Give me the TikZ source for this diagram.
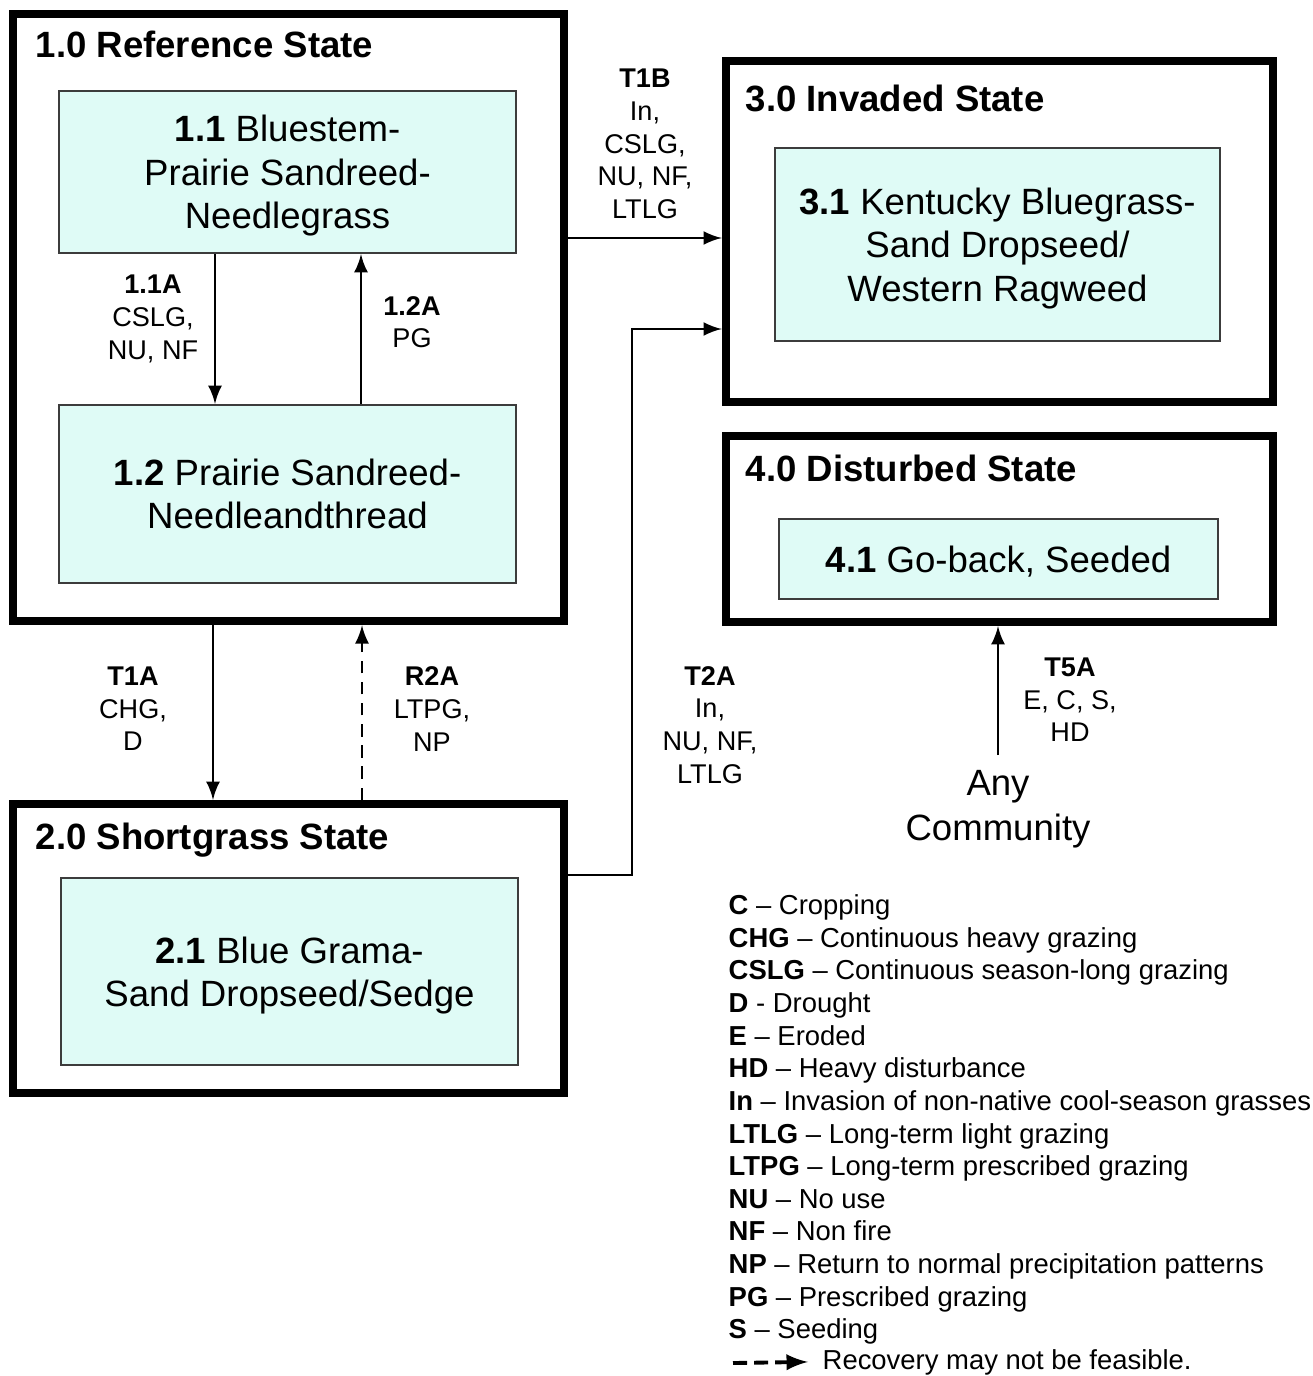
\documentclass[tikz,border=0pt]{standalone}
\usepackage{fontspec}
\setmainfont{Liberation Sans}
\usepackage{tikz}
\usetikzlibrary{shapes,arrows,positioning}
\definecolor{commfill}{RGB}{223,251,246}
\definecolor{commdraw}{RGB}{60,60,60}
\tikzset{state/.style={rectangle, draw, line width=2.3pt, fill=white, inner sep=0pt}}
\tikzset{community/.style={rectangle, draw=commdraw, line width=0.6pt, fill=commfill, align=center, inner sep=0pt,
 text depth=0pt, font=\fontsize{10.4}{12.3}\selectfont}}
\tikzset{statetitle/.style={anchor=base west, inner sep=0pt, font=\fontsize{10.4}{12}\selectfont\bfseries}}
\tikzset{trans/.style={anchor=north, align=center, inner sep=0pt, font=\fontsize{7.7}{9.3}\selectfont}}
\tikzset{key/.style={anchor=north west, align=left, inner sep=0pt, font=\fontsize{7.8}{9.28}\selectfont}}
\tikzset{line/.style={draw, line width=0.8pt, -latex}}
\tikzset{recover/.style={draw, line width=0.8pt, -latex, dash pattern=on 3.5pt off 2.5pt}}

\begin{document}
\begin{tikzpicture}[x=0.01cm, y=-0.01cm]
        \useasboundingbox (0,0) rectangle (1313,1376);
        % states
        \node[state, minimum width=5.505cm, minimum height=6.065cm] (ref)   at (288.75,317.75) {};
        \node[state, minimum width=5.505cm, minimum height=2.89cm]  (short) at (288.75,948.5) {};
        \node[state, minimum width=5.47cm,  minimum height=3.41cm]  (inv)   at (999.5,231.5) {};
        \node[state, minimum width=5.47cm,  minimum height=1.86cm]  (dist)  at (999.5,529) {};

        \node[statetitle] (reft)   at (35,58)  {1.0 Reference State};
        \node[statetitle] (shortt) at (35,849) {2.0 Shortgrass State};
        \node[statetitle] (invt)   at (745,112) {3.0 Invaded State};
        \node[statetitle] (distt)  at (745,481) {4.0 Disturbed State};

        % communities
        \node[community, minimum width=4.57cm, minimum height=1.62cm] (c11) at (287.5,172)
            {\textbf{1.1} Bluestem-\\Prairie Sandreed-\\Needlegrass};
        \node[community, minimum width=4.57cm, minimum height=1.78cm] (c12) at (287.5,494)
            {\textbf{1.2} Prairie Sandreed-\\Needleandthread};
        \node[community, minimum width=4.57cm, minimum height=1.87cm] (c21) at (289.5,971.5)
            {\textbf{2.1} Blue Grama-\\Sand Dropseed/Sedge};
        \node[community, minimum width=4.45cm, minimum height=1.93cm] (c31) at (997.5,244.5)
            {\textbf{3.1} Kentucky Bluegrass-\\Sand Dropseed/\\Western Ragweed};
        \node[community, minimum width=4.39cm, minimum height=0.80cm] (c41) at (998.5,559)
            {\textbf{4.1} Go-back, Seeded};

        \node[anchor=north, align=center, inner xsep=0pt, inner ysep=0.15cm,
              font=\fontsize{10.4}{12.6}\selectfont] (any) at (998,755) {Any\\Community};

        % pathways
        \coordinate (a11) at (215,0);
        \coordinate (a12) at (361,0);
        \coordinate (t1a) at (213,0);
        \coordinate (r2a) at (362,0);
        \coordinate (t1b) at (0,238);
        \coordinate (t2a) at (632,875);
        \coordinate (t2b) at (632,329);

        \path[line] (a11 |- c11.south) -- (a11 |- c12.north);
        \path[line] (a12 |- c12.north) -- (a12 |- c11.south);
        \path[line] (t1a |- ref.south) -- (t1a |- short.north);
        \path[recover] (r2a |- short.north) -- (r2a |- ref.south);
        \path[line] (t1b -| ref.east) -- (t1b -| inv.west);
        \path[line] (t2a -| short.east) -- (t2a) -- (t2b) -- (t2b -| inv.west);
        \path[line] (any.north) -- (any.north |- dist.south);

        \node[trans] (l11a) at (153,274.5) {\textbf{1.1A}\\CSLG,\\NU, NF};
        \node[trans] (l12a) at (412,295.5) {\textbf{1.2A}\\PG};
        \node[trans] (lt1a) at (133,666) {\textbf{T1A}\\CHG,\\D};
        \node[trans] (lr2a) at (432,666) {\textbf{R2A}\\LTPG,\\NP};
        \node[trans] (lt1b) at (645,68.5) {\textbf{T1B}\\In,\\CSLG,\\NU, NF,\\LTLG};
        \node[trans] (lt2a) at (710,665.5) {\textbf{T2A}\\In,\\NU, NF,\\LTLG};
        \node[trans] (lt5a) at (1070,657) {\textbf{T5A}\\E, C, S,\\HD};

        % key
        \node[key] (keys) at (728,894) {\textbf{C} -- Cropping\\
            \textbf{CHG} -- Continuous heavy grazing\\
            \textbf{CSLG} -- Continuous season-long grazing\\
            \textbf{D} - Drought\\
            \textbf{E} -- Eroded\\
            \textbf{HD} -- Heavy disturbance\\
            \textbf{In} -- Invasion of non-native cool-season grasses\\
            \textbf{LTLG} -- Long-term light grazing\\
            \textbf{LTPG} -- Long-term prescribed grazing\\
            \textbf{NU} -- No use\\
            \textbf{NF} -- Non fire\\
            \textbf{NP} -- Return to normal precipitation patterns\\
            \textbf{PG} -- Prescribed grazing\\
            \textbf{S} -- Seeding};
        \node[anchor=base west, inner sep=0pt, font=\fontsize{7.8}{9.28}\selectfont] (recov) at (822,1369)
            {Recovery may not be feasible.};
        \coordinate (keytail) at (733,1363);
        \path[draw, line width=1.1pt, -latex, dash pattern=on 4pt off 2pt] (keytail) -- ([xshift=-0.14cm]recov.west);
      \end{tikzpicture}
\end{document}
